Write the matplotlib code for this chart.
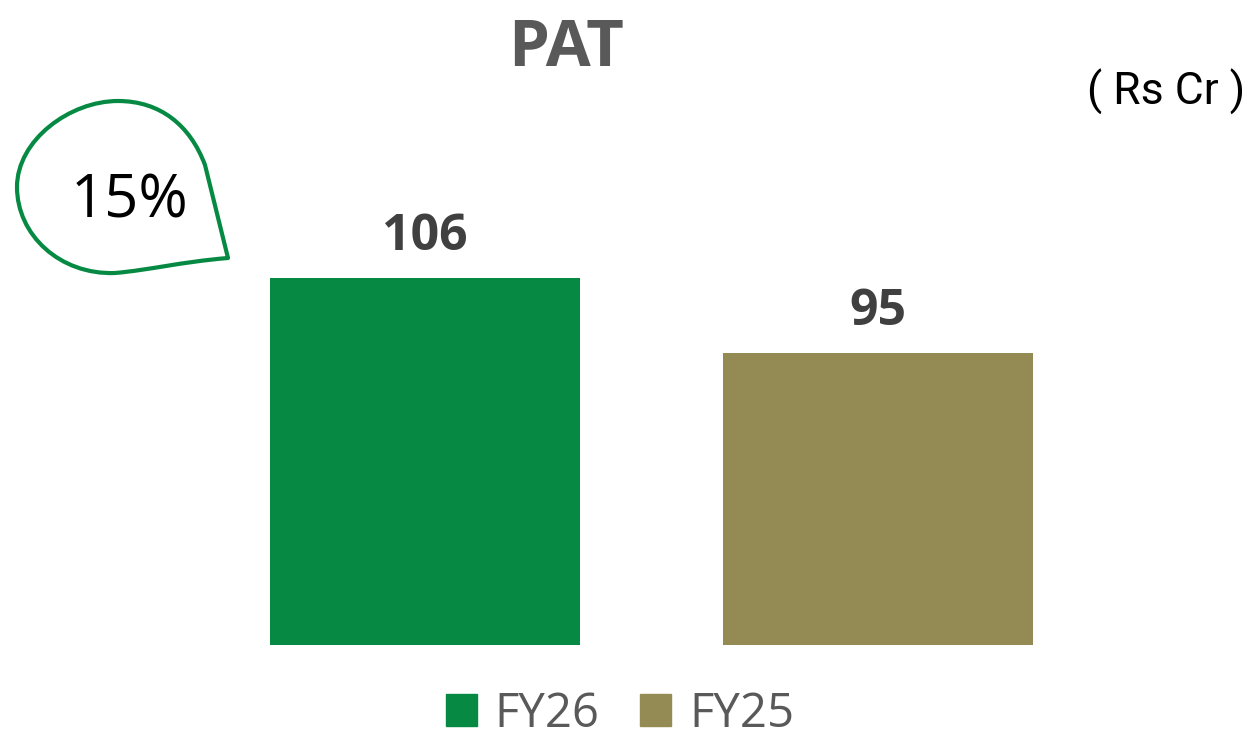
import matplotlib
matplotlib.use("Agg")
import matplotlib.pyplot as plt
from matplotlib.path import Path
from matplotlib.patches import PathPatch, Patch
import matplotlib.transforms as mtransforms

# --- data ---
categories = ["FY26", "FY25"]
values = [106, 95]
growth_label = "15%"
colors = ["#068A43", "#948A54"]
title = "PAT"
unit = "( Rs Cr )"

W, H = 1253, 741
fig = plt.figure(figsize=(W / 100, H / 100), dpi=100)

# axes placed so bars sit where they are in the reference (pixel based)
ax = fig.add_axes([150 / W, 1 - 645 / H, (1153 - 150) / W, (645 - 100) / H])
x = range(len(categories))
bars = ax.bar(x, values, width=0.684, color=colors)
ax.set_xlim(-0.607, 1.607)
ax.set_ylim(52.17, 132.1)
ax.axis("off")

for b, v in zip(bars, values):
    ax.annotate(str(v), (b.get_x() + b.get_width() / 2, v),
                xytext=(0, 20), textcoords="offset points",
                ha="center", va="baseline", fontsize=36, fontweight="bold",
                color="#404040", family="Open Sans")

fig.text(566 / W, 1 - 66 / H, title, ha="center", va="baseline",
         fontsize=47, fontweight="bold", color="#595959", family="Open Sans")
fig.text(1245 / W, 1 - 105 / H, unit, ha="right", va="baseline",
         fontsize=32, color="black", family="Roboto")

# speech bubble with growth %
px = mtransforms.Affine2D().scale(1 / W, -1 / H).translate(0, 1) + fig.transFigure
verts = [(205, 165),
         (190, 125), (160, 101), (118, 101),
         (70, 101), (17, 140), (17, 187),
         (17, 235), (60, 275), (115, 273),
         (150, 270), (180, 262), (228, 258),
         (205, 165), (205, 165)]
codes = ([Path.MOVETO] + [Path.CURVE4] * 12 + [Path.LINETO, Path.CLOSEPOLY])
bubble = PathPatch(Path(verts, codes), facecolor="none", edgecolor="#068A43",
                   lw=3.0, transform=px, joinstyle="round")
fig.add_artist(bubble)
fig.text(130 / W, 1 - 217 / H, growth_label, ha="center", va="baseline",
         fontsize=43, color="black", family="Open Sans")

handles = [Patch(color=c, label=l) for c, l in zip(colors, categories)]
fig.legend(handles=handles, loc="center", bbox_to_anchor=(620 / W, 1 - 714 / H),
           ncol=2, frameon=False, handlelength=0.66, handleheight=0.66,
           handletextpad=0.38, columnspacing=0.86, borderpad=0.1,
           prop={"family": "Open Sans", "size": 34}, labelcolor="#595959")

fig.savefig("out.png", dpi=100)
